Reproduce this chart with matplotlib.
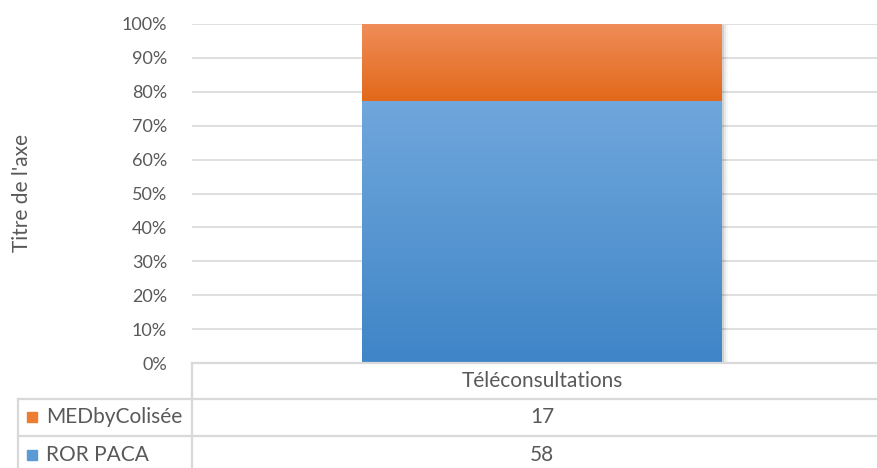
import numpy as np
import matplotlib
matplotlib.use("Agg")
import matplotlib.pyplot as plt
from matplotlib.colors import LinearSegmentedColormap
from matplotlib.lines import Line2D
from matplotlib.patches import Rectangle

plt.rcParams['font.family'] = ['Lato', 'DejaVu Sans']

# data
categories = ["Téléconsultations"]
series_names = ["ROR PACA", "MEDbyColisée"]
series_values = [[58], [17]]
tick_labels = ["0%", "10%", "20%", "30%", "40%", "50%", "60%", "70%", "80%", "90%", "100%"]

# gradients (top colour, bottom colour)
grads = {
    "ROR PACA": ("#70A7DC", "#3F85C7"),
    "MEDbyColisée": ("#F08D58", "#E2681A"),
}
legend_col = {"ROR PACA": "#5B9BD5", "MEDbyColisée": "#ED7D31"}
TXT = "#595959"
GRID = "#D9D9D9"
FS_TICK = 13
FS = 15

W, H = 878, 468
fig = plt.figure(figsize=(W / 100, H / 100), dpi=100)

# plot area in pixel coords
left, right, top, bottom = 192, 892, 24, 363
ax = fig.add_axes([left / W, 1 - bottom / H, (right - left) / W, (bottom - top) / H])

totals = np.sum(series_values, axis=0)
x = np.arange(len(categories))
base = np.zeros(len(categories))
bw = 0.514
for name, vals in zip(series_names, series_values):
    frac = np.array(vals) / totals
    bars = ax.bar(x, frac, bottom=base, width=bw, color="none", zorder=3)
    for b in bars:
        x0, y0 = b.get_x(), b.get_y()
        w, h = b.get_width(), b.get_height()
        cmap = LinearSegmentedColormap.from_list(name, [grads[name][1], grads[name][0]])
        grad = np.linspace(0, 1, 256).reshape(-1, 1)
        ax.imshow(grad, cmap=cmap, aspect="auto", origin="lower",
                  extent=(x0, x0 + w, y0, y0 + h), zorder=3)
        # soft shadow on the right
        for k, a in enumerate([0.10, 0.06, 0.03]):
            ax.add_patch(Rectangle((x0 + w, y0 - 0.002), 0.003 * (k + 1), h,
                                   color="black", alpha=a, lw=0, zorder=2))
    base = base + frac

ax.set_xlim(-0.5, 0.5)
ax.set_ylim(0, 1)
ax.set_yticks(np.linspace(0, 1, len(tick_labels)))
ax.set_yticklabels(tick_labels, color=TXT, fontsize=FS_TICK)
ax.tick_params(axis="y", length=0, pad=18)
ax.set_xticks([])
ax.yaxis.grid(True, color=GRID, lw=1.2, zorder=0)
for s in ax.spines.values():
    s.set_visible(False)

fig.text(22 / W, 1 - 193 / H, "Titre de l'axe", rotation=90, ha="center", va="center",
         color=TXT, fontsize=FS)


# data table
def hline(y, x0, x1):
    fig.add_artist(Line2D([x0 / W, x1 / W], [1 - y / H, 1 - y / H], color=GRID, lw=1.6))


def vline(xp, y0, y1):
    fig.add_artist(Line2D([xp / W, xp / W], [1 - y0 / H, 1 - y1 / H], color=GRID, lw=1.6))


hline(363, 192, W)
hline(399, 18, W)
hline(436, 18, W)
vline(192, 363, 468)
vline(18, 399, 468)

cx = (left + right) / 2
fig.text(cx / W, 1 - 381 / H, categories[0], ha="center", va="center", color=TXT, fontsize=FS)
row_y = {"MEDbyColisée": 417, "ROR PACA": 455}
for name, vals in zip(series_names, series_values):
    yy = row_y[name]
    fig.add_artist(Rectangle((27 / W, 1 - (yy + 5) / H), 10 / W, 10 / H,
                             color=legend_col[name], transform=fig.transFigure))
    fig.text(46 / W, 1 - yy / H, name, ha="left", va="center", color=TXT, fontsize=FS)
    fig.text(cx / W, 1 - yy / H, str(vals[0]), ha="center", va="center", color=TXT, fontsize=FS)

fig.savefig("out.png", dpi=100)
